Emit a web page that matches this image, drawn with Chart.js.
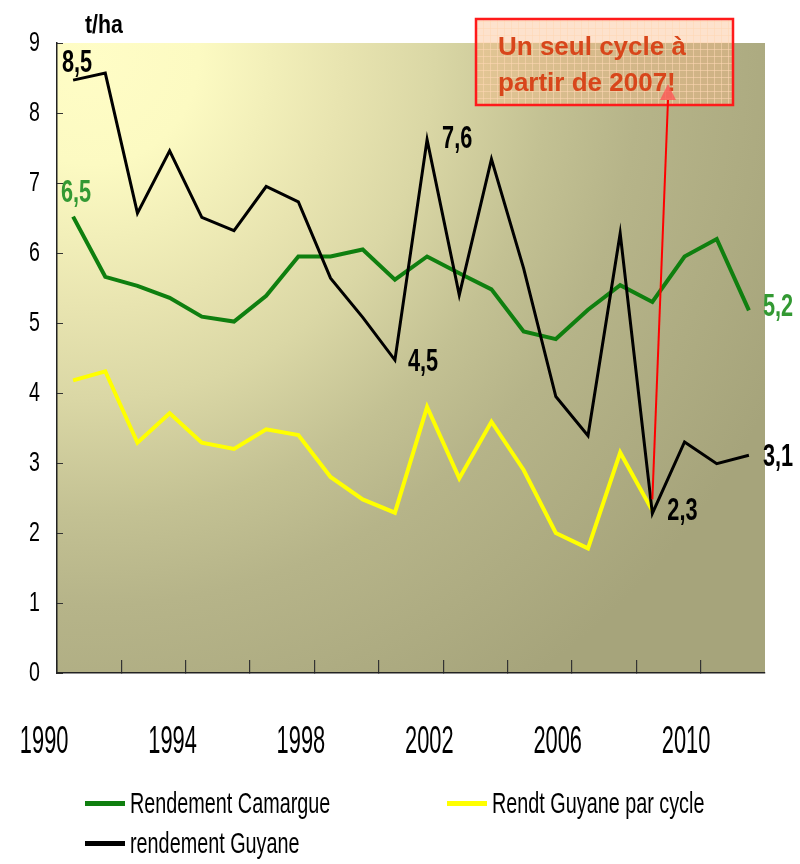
<!DOCTYPE html>
<html>
<head>
<meta charset="utf-8">
<script src="https://cdn.jsdelivr.net/npm/chart.js@4.4.1/dist/chart.umd.min.js"></script>
<style>
    html, body { margin: 0; padding: 0; background: #fff; }
    #wrap { position: relative; width: 800px; height: 864px; }
    #legend { position: absolute; left: 0; top: 0; width: 800px; height: 864px; pointer-events: none;
        font-family: 'Liberation Sans', Arial, sans-serif; }
    .item { position: absolute; display: flex; align-items: center; height: 36px; }
    .item i { display: block; width: 40px; height: 5px; margin-right: 5px; }
    .item span { font-size: 30px; display: inline-block; transform: scaleX(0.66); transform-origin: left center; white-space: nowrap; color: #000; }
</style>
</head>
<body>
<div id="wrap">
    <canvas id="chart" width="800" height="864"></canvas>
    <div id="legend"></div>
</div>
<script>
const FONT = "'Liberation Sans', Arial, sans-serif"

// data, one value per year 1991..2012
const years = ['1991', '1992', '1993', '1994', '1995', '1996', '1997', '1998', '1999', '2000', '2001',
    '2002', '2003', '2004', '2005', '2006', '2007', '2008', '2009', '2010', '2011', '2012']
const camargue = [6.52, 5.66, 5.53, 5.36, 5.09, 5.02, 5.39, 5.95, 5.95, 6.05, 5.62,
    5.95, 5.71, 5.48, 4.88, 4.77, 5.19, 5.54, 5.30, 5.95, 6.20, 5.18]
const guyane = [8.47, 8.57, 6.57, 7.46, 6.51, 6.32, 6.95, 6.73, 5.64, 5.08, 4.47,
    7.62, 5.40, 7.34, 5.78, 3.95, 3.39, 6.28, 2.28, 3.30, 2.99, 3.11]
const guyaneCycle = [4.18, 4.31, 3.29, 3.71, 3.29, 3.20, 3.48, 3.40, 2.80, 2.48, 2.29,
    3.80, 2.78, 3.59, 2.90, 2.00, 1.78, 3.15, 2.32, null, null, null]
const yearTicks = [1990, 1994, 1998, 2002, 2006, 2010]
const unit = 't/ha'
const note = ['Un seul cycle à', 'partir de 2007!']

const series = [
    { label: 'Rendement Camargue', data: camargue, color: '#0f7f0f', width: 4, order: 2, left: 85, top: 785 },
    { label: 'Rendt Guyane par cycle', data: guyaneCycle, color: '#ffff00', width: 4, order: 3, left: 447, top: 785 },
    { label: 'rendement Guyane', data: guyane, color: '#000000', width: 3, order: 1, left: 85, top: 825 }
]

// which points get a value label: [series, index]
const valueLabels = [[0, 0], [0, 21], [2, 0], [2, 10], [2, 11], [2, 18], [2, 21]]
const labelSpots = [
    { dx: 3, dy: -15, align: 'center' }, { dx: 14, dy: -3, align: 'left' },
    { dx: 4, dy: -8, align: 'center' }, { dx: 13, dy: 2, align: 'left' },
    { dx: 15, dy: 0, align: 'left' }, { dx: 15, dy: -2, align: 'left' }, { dx: 14, dy: 2, align: 'left' }
]
const labelColors = ['#339933', null, '#000000']

const legend = document.getElementById('legend')
series.forEach(s => {
    const el = document.createElement('div')
    el.className = 'item'
    el.style.left = s.left + 'px'
    el.style.top = s.top + 'px'
    el.innerHTML = `<i style="background:${s.color}"></i><span>${s.label}</span>`
    legend.appendChild(el)
})

// the original text is set in a condensed face: squeeze the axis labels horizontally
function narrowLabels(scale, k) {
    scale.drawLabels = function (area) {
        if (!this.options.ticks.display) return
        const ctx = this.ctx
        for (const item of this.getLabelItems(area)) {
            const o = item.options
            ctx.save()
            ctx.translate(o.translation[0], o.translation[1])
            ctx.scale(k, 1)
            ctx.font = item.font.string
            ctx.fillStyle = o.color
            ctx.textAlign = o.textAlign
            ctx.textBaseline = o.textBaseline
            ctx.fillText(item.label, 0, item.textOffset)
            ctx.restore()
        }
    }
}

const backdrop = {
    id: 'backdrop',
    beforeDraw(chart) {
        narrowLabels(chart.scales.xl, 0.56)
        narrowLabels(chart.scales.y, 0.7)
        const { ctx, chartArea: a } = chart
        const g = ctx.createRadialGradient(a.left + 35, a.top + 15, 0, a.left + 35, a.top + 15, 760)
        g.addColorStop(0, '#fffdc6')
        g.addColorStop(0.14, '#fcfac2')
        g.addColorStop(0.33, '#e8e4b0')
        g.addColorStop(0.45, '#dad7a5')
        g.addColorStop(0.6, '#c3c193')
        g.addColorStop(0.72, '#b6b489')
        g.addColorStop(1, '#a6a47b')
        ctx.save()
        ctx.fillStyle = g
        ctx.fillRect(a.left, a.top, a.right - a.left, a.bottom - a.top)
        ctx.restore()
    }
}

function boxPattern(ctx) {
    const c = document.createElement('canvas')
    c.width = 7; c.height = 7
    const p = c.getContext('2d')
    p.fillStyle = 'rgba(250,185,135,0.42)'
    p.fillRect(0, 0, 7, 7)
    p.fillStyle = 'rgba(255,215,180,0.55)'
    p.fillRect(0, 0, 7, 1)
    p.fillRect(0, 0, 1, 7)
    return ctx.createPattern(c, 'repeat')
}

const notes = {
    id: 'notes',
    afterDraw(chart) {
        const { ctx, chartArea: a } = chart
        ctx.save()
        // unit
        ctx.save()
        ctx.translate(a.left + 28, a.top - 10)
        ctx.scale(0.82, 1)
        ctx.fillStyle = '#000'
        ctx.font = `bold 26px ${FONT}`
        ctx.textAlign = 'left'
        ctx.textBaseline = 'alphabetic'
        ctx.fillText(unit, 0, 0)
        ctx.restore()

        // value labels
        valueLabels.forEach(([d, i], k) => {
            const pt = chart.getDatasetMeta(d).data[i]
            const spot = labelSpots[k]
            const text = series[d].data[i].toFixed(1).replace('.', ',')
            ctx.save()
            ctx.translate(pt.x + spot.dx, pt.y + spot.dy)
            ctx.scale(0.7, 1)
            ctx.font = `bold 31px ${FONT}`
            ctx.fillStyle = labelColors[d]
            ctx.textAlign = spot.align
            ctx.textBaseline = spot.align === 'center' ? 'alphabetic' : 'middle'
            ctx.fillText(text, 0, 0)
            ctx.restore()
        })

        // callout box
        const bx = a.left + 419, by = a.top - 24, bw = 257, bh = 86
        ctx.fillStyle = boxPattern(ctx)
        ctx.fillRect(bx, by, bw, bh)
        ctx.strokeStyle = '#ff1a1a'
        ctx.lineWidth = 2.5
        ctx.strokeRect(bx, by, bw, bh)
        ctx.fillStyle = '#d8461b'
        ctx.font = `bold 26px ${FONT}`
        ctx.textAlign = 'left'
        ctx.textBaseline = 'alphabetic'
        ctx.fillText(note[0], bx + 22, by + 36)
        ctx.fillText(note[1], bx + 22, by + 72)

        // arrow from the 2009 point up to the box
        const start = chart.getDatasetMeta(2).data[18]
        const tipX = bx + 192, tipY = by + 65
        ctx.strokeStyle = '#ff0000'
        ctx.lineWidth = 2
        ctx.beginPath()
        ctx.moveTo(start.x, start.y - 14)
        ctx.lineTo(tipX, tipY + 16)
        ctx.stroke()
        ctx.fillStyle = 'rgba(255,80,80,0.75)'
        ctx.beginPath()
        ctx.moveTo(tipX, tipY)
        ctx.lineTo(tipX - 8, tipY + 16)
        ctx.lineTo(tipX + 8, tipY + 16)
        ctx.closePath()
        ctx.fill()
        ctx.restore()
    }
}

new Chart(document.getElementById('chart'), {
    type: 'line',
    data: {
        labels: years,
        datasets: series.map(s => ({
            label: s.label,
            data: s.data,
            borderColor: s.color,
            backgroundColor: s.color,
            borderWidth: s.width,
            order: s.order,
            pointRadius: 0,
            tension: 0,
            fill: false,
            spanGaps: false
        }))
    },
    options: {
        animation: false,
        responsive: false,
        layout: { padding: { top: 43, right: 35, left: 0, bottom: 0 } },
        plugins: { legend: { display: false }, tooltip: { enabled: false } },
        scales: {
            x: {
                type: 'category',
                offset: true,
                border: { display: true, color: '#222', width: 1.5 },
                grid: {
                    offset: true,
                    drawOnChartArea: false,
                    tickLength: -13,
                    lineWidth: 1.2,
                    color: c => c.index % 2 === 0 ? '#333' : 'rgba(0,0,0,0)'
                },
                ticks: { display: false },
                afterFit: s => { s.height = 0; s.paddingLeft = 0; s.paddingRight = 0 }
            },
            xl: {
                type: 'linear',
                position: 'bottom',
                min: 1990.4,
                max: 2012.46,
                grid: { display: false, drawTicks: false },
                border: { display: false },
                afterBuildTicks: s => { s.ticks = yearTicks.map(v => ({ value: v })) },
                ticks: {
                    autoSkip: false,
                    maxRotation: 0,
                    padding: 46,
                    color: '#000',
                    font: { family: FONT, size: 39 },
                    callback: v => String(v)
                },
                afterFit: s => { s.height = 191; s.paddingLeft = 0; s.paddingRight = 0 }
            },
            y: {
                min: 0,
                max: 9,
                border: { color: '#222', width: 1.5 },
                grid: { drawOnChartArea: false, tickLength: -6, color: '#333' },
                ticks: { stepSize: 1, padding: 23, color: '#000', font: { family: FONT, size: 28 } },
                afterFit: s => { s.width = 57; s.paddingTop = 0; s.paddingBottom = 0 }
            }
        }
    },
    plugins: [backdrop, notes]
})
</script>
</body>
</html>
